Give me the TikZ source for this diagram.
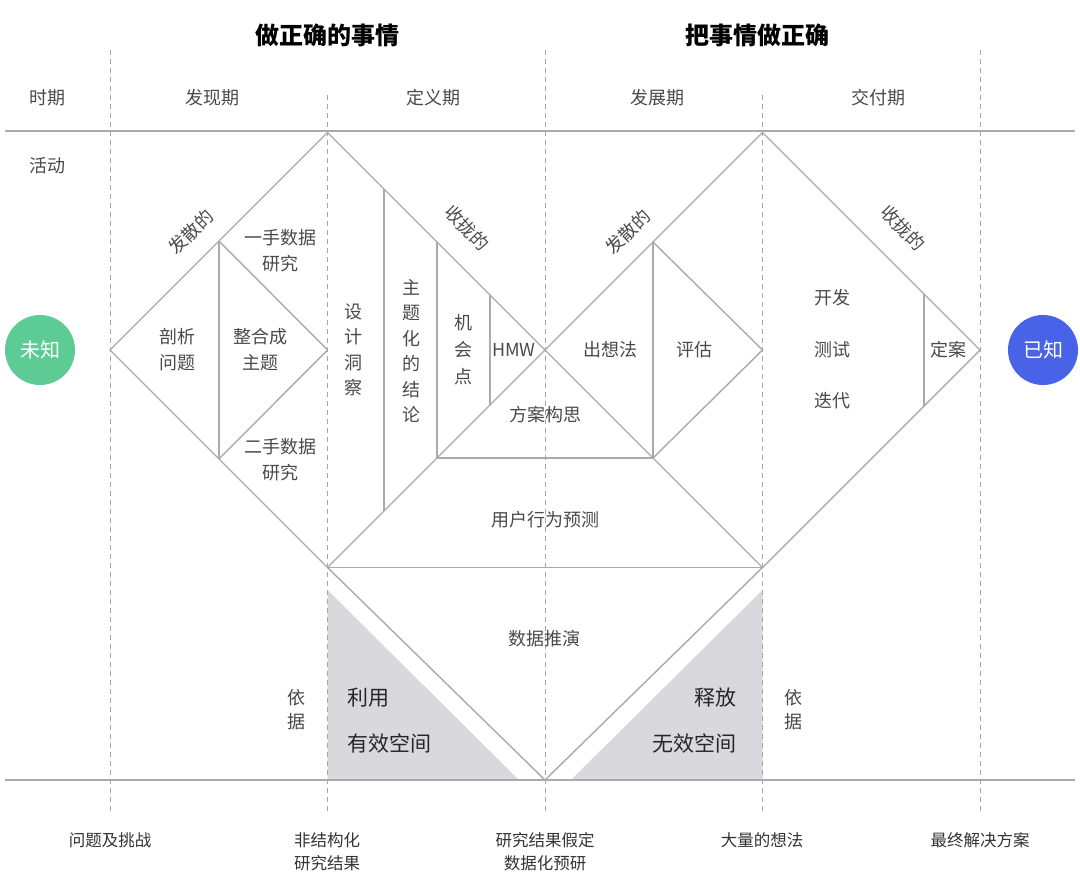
\documentclass[tikz,border=0pt]{standalone}
\usepackage{fontspec}
\setmainfont{Noto Sans CJK SC}
\usepackage{tikz}
\usetikzlibrary{calc}
\definecolor{linegray}{HTML}{AAAAAA}
\definecolor{dashgray}{HTML}{A5A5A5}
\definecolor{txtgray}{HTML}{4A4A4A}
\definecolor{spacegray}{HTML}{D9D8DC}
\definecolor{unkgreen}{HTML}{5DCB94}
\definecolor{knownblue}{HTML}{4862E8}

\begin{document}
\begin{tikzpicture}[x=1pt, y=-1pt,
  every node/.style={inner sep=0pt, text=txtgray, font=\fontsize{18}{26}\selectfont, align=center},
  dline/.style={draw=linegray, line width=1.4pt, line join=miter},
  gline/.style={draw=dashgray, line width=0.9pt, dash pattern=on 5pt off 4pt},
  hline/.style={draw=linegray, line width=1.4pt},
  space/.style={font=\fontsize{21}{26}\selectfont, text=black!85},
  foot/.style={font=\fontsize{16.5}{23}\selectfont, text=black!80},
  dot/.style={circle, minimum size=70pt, text=white, font=\fontsize{20}{24}\selectfont},
]

%% canvas
\fill[white] (0,0) rectangle (1080,875);
\useasboundingbox (0,0) rectangle (1080,875);

%% grey spaces under the V
\fill[spacegray] (327.5,590) -- (327.5,780) -- (519,780) -- cycle;
\fill[spacegray] (762.5,590) -- (762.5,780) -- (571,780) -- cycle;

%% period grid (dashed)
\foreach \gx/\gy in {110/50, 327.5/95, 545/50, 762.5/95, 980/50}{
  \draw[gline] (\gx,\gy) -- (\gx,815);
}
\draw[hline] (5,131) -- (1075,131);
\draw[hline] (5,780) -- (1075,780);

%% diamond corners
\coordinate (dl) at (110,350);   % discover, left tip
\coordinate (dt) at (327.5,132.5);
\coordinate (db) at (327.5,567.5);
\coordinate (mid) at (545,350);
\coordinate (pt) at (762.5,132.5); % deliver, top
\coordinate (pr) at (980,350);
\coordinate (pb) at (762.5,567.5);
\coordinate (vb) at (545,780);   % bottom of the V

%% inner corners
\coordinate (a1) at (219,241);
\coordinate (a2) at (219,459);
\coordinate (ar) at (327.5,350);
\coordinate (e1) at (653,242);
\coordinate (e2) at (653,458);
\coordinate (er) at (762.5,350);
\coordinate (h1) at (437,458);

%% outer shape
\draw[dline] (dl) -- (dt) -- (pb) -- (pr) -- (pt) -- (db) -- cycle;
\draw[dline] (db) -- (pb);
\draw[dline] (db) -- (vb) -- (pb);

%% inner shapes
\draw[dline] (a1) -- (a2);
\draw[dline] (a1) -- (ar) -- (a2);
\draw[dline] (e1) -- (e2);
\draw[dline] (e1) -- (er) -- (e2);
\draw[dline] (h1) -- (e2);

%% columns of the define phase + deliver
\foreach \cn/\cx/\ctop/\cbot in {c1/384/189/511, c2/437/242/458, c3/490/295/405, c4/924/294/406}{
  \coordinate (\cn t) at (\cx,\ctop);
  \coordinate (\cn b) at (\cx,\cbot);
  \draw[dline] (\cn t) -- (\cn b);
}

%% titles
\node[font=\fontsize{24}{28}\selectfont\bfseries, text=black] (ttl1) at (327,35) {做正确的事情};
\node[font=\fontsize{24}{28}\selectfont\bfseries, text=black] (ttl2) at (757,35) {把事情做正确};

%% periods
\foreach \nm/\px/\lab in {per0/48/时期, per1/212/发现期, per2/433/定义期, per3/657/发展期, per4/878/交付期}{
  \node (\nm) at (\px,98) {\lab};
}
\node (act) at (48,166) {活动};

%% direction labels
\node[rotate=45] (dvg1) at (191,232) {发散的};
\node[rotate=-45] (cvg1) at (467,228) {收拢的};
\node[rotate=45] (dvg2) at (628,232) {发散的};
\node[rotate=-45] (cvg2) at (903,228) {收拢的};

%% discover
\node (first) at (280,251) {一手数据\\研究};
\node (probe) at (177,350) {剖析\\问题};
\node (merge) at (260,350) {整合成\\主题};
\node (second) at (280,460) {二手数据\\研究};

%% define
\node[font=\fontsize{18}{25.5}\selectfont] (insight) at (353,350) {设\\计\\洞\\察};
\node[font=\fontsize{18}{25.5}\selectfont] (theme) at (411,351) {主\\题\\化\\的\\结\\论};
\node[font=\fontsize{18}{27}\selectfont] (chance) at (463,350) {机\\会\\点};
\node (hmw) at (514,350) {HMW};
\node (concept) at (545,415) {方案构思};
\node (predict) at (545,520) {用户行为预测};
\node (deduce) at (544,639) {数据推演};

%% develop + deliver
\node (ideas) at (610,350) {出想法};
\node (assess) at (694,350) {评估};
\node (build) at (832,298) {开发};
\node (test) at (832,350) {测试};
\node (iter) at (832,401) {迭代};
\node (final) at (948,350) {定案};

%% basis + spaces
\node[font=\fontsize{18}{24}\selectfont] (basis1) at (296,710) {依\\据};
\node[font=\fontsize{18}{24}\selectfont] (basis2) at (793,710) {依\\据};
\node[space, anchor=west] (use) at (347,698) {利用};
\node[space, anchor=west] (valid) at (347,743) {有效空间};
\node[space, anchor=east] (free) at (737,698) {释放};
\node[space, anchor=east] (invalid) at (737,743) {无效空间};

%% results along the bottom
\foreach \nm/\px/\py/\lab in {res0/110/840/问题及挑战, res1/327/852/{非结构化\\研究结果}, res2/545/852/{研究结果假定\\数据化预研}, res3/762/840/大量的想法, res4/980/840/最终解决方案}{
  \node[foot] (\nm) at (\px,\py) {\lab};
}

%% start / end
\node[dot, fill=unkgreen] (unknown) at (40,350) {未知};
\node[dot, fill=knownblue] (known) at (1043,350) {已知};

\end{tikzpicture}
\end{document}
